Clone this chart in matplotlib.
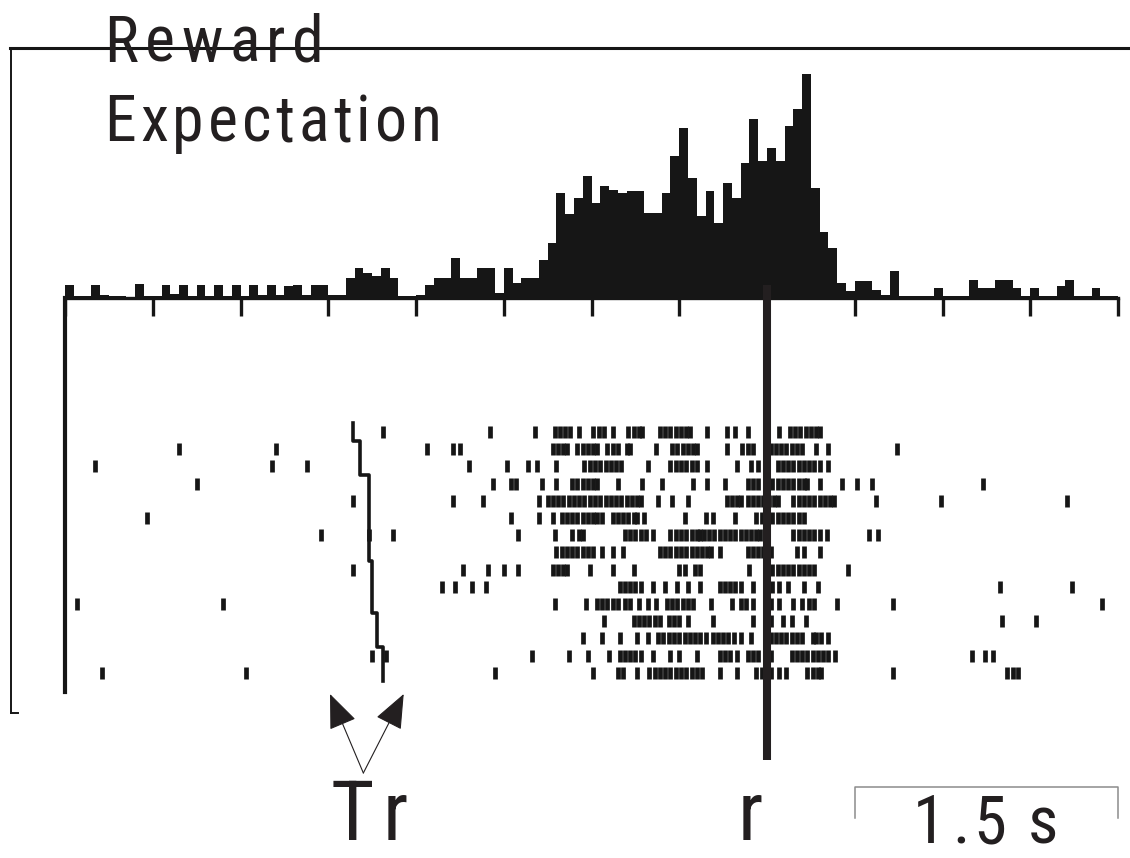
import numpy as np
import matplotlib
matplotlib.use("Agg")
import matplotlib.pyplot as plt
from matplotlib.lines import Line2D

W, H = 1130, 858
INK = "#161616"
TXT = "#231f20"
FONT = ["Roboto Condensed", "Liberation Sans", "DejaVu Sans"]

# time window (s, reward at 0) and PSTH binning
t_start, t_end = -4.0, 2.0
bin_width = 0.05
tick_step = 0.5

# PSTH, impulses/s, one value per 50 ms bin from -4 s to +2 s
psth_rate = [
    1.3, 0.2, 0.2, 1.3, 0.3, 0.2, 0.2, 0.0, 1.4, 0.2,
    0.2, 1.3, 0.4, 1.3, 0.2, 1.3, 0.2, 1.3, 0.2, 1.3,
    0.2, 1.3, 0.3, 1.3, 0.3, 1.2, 1.3, 0.3, 1.3, 1.3,
    0.3, 0.3, 2.0, 3.0, 2.5, 2.2, 3.0, 2.0, 0.2, 0.2,
    0.3, 1.3, 2.0, 2.0, 4.0, 2.0, 2.0, 3.0, 3.0, 0.5,
    3.0, 1.5, 2.0, 2.0, 3.8, 5.5, 10.5, 8.4, 10.0, 12.2,
    9.5, 11.2, 10.8, 10.5, 10.7, 10.7, 8.5, 8.5, 10.5, 14.2,
    17.0, 12.0, 8.2, 10.7, 7.5, 11.5, 10.0, 13.5, 17.9, 13.7,
    15.0, 13.7, 17.2, 18.9, 22.4, 11.0, 6.6, 5.0, 1.5, 0.7,
    1.7, 1.7, 0.8, 0.3, 2.7, 0.2, 0.2, 0.2, 0.2, 1.0,
    0.2, 0.2, 0.2, 1.8, 1.0, 1.0, 1.8, 1.8, 1.0, 0.2,
    1.0, 0.2, 0.2, 1.2, 1.8, 0.2, 0.2, 1.0, 0.2, 0.2,
]

# trigger (Tr) time on each trial, s
trigger_t = [-2.36, -2.32, -2.32, -2.27, -2.27, -2.27, -2.27, -2.27,
             -2.25, -2.25, -2.25, -2.22, -2.22, -2.19, -2.19]

# spike times per trial, s relative to reward
spikes = [
    [-2.19, -1.58, -1.32, -1.21, -1.18, -1.15, -1.12, -1.07, -0.99, -0.96, -0.93, -0.88,
     -0.79, -0.76, -0.73, -0.71, -0.61, -0.58, -0.55, -0.52, -0.49, -0.46, -0.44, -0.34,
     -0.23, -0.18, -0.11, 0.00, 0.07, 0.13, 0.16, 0.19, 0.22, 0.25, 0.28, 0.30],
    [-3.35, -2.80, -1.94, -1.79, -1.75, -1.22, -1.19, -1.16, -1.14, -1.08, -1.05, -1.02,
     -0.99, -0.97, -0.91, -0.88, -0.85, -0.80, -0.78, -0.63, -0.54, -0.51, -0.48, -0.45,
     -0.42, -0.40, -0.23, -0.14, -0.11, -0.08, 0.02, 0.05, 0.08, 0.11, 0.14, 0.17, 0.20,
     0.28, 0.35, 0.74],
    [-3.83, -2.82, -2.62, -1.70, -1.48, -1.36, -1.31, -1.20, -1.04, -1.01, -0.98, -0.95,
     -0.92, -0.89, -0.86, -0.83, -0.68, -0.55, -0.52, -0.49, -0.46, -0.43, -0.40, -0.34,
     -0.17, -0.09, -0.05, 0.06, 0.09, 0.12, 0.15, 0.18, 0.21, 0.24, 0.27, 0.30, 0.35],
    [-3.25, -1.56, -1.46, -1.43, -1.28, -1.20, -1.11, -1.08, -1.05, -1.02, -0.99, -0.97,
     -0.85, -0.71, -0.60, -0.42, -0.34, -0.24, -0.11, -0.08, -0.05, 0.03, 0.06, 0.09,
     0.12, 0.15, 0.18, 0.21, 0.23, 0.30, 0.43, 0.51, 0.60, 1.23],
    [-2.36, -1.79, -1.62, -1.30, -1.25, -1.22, -1.19, -1.16, -1.13, -1.10, -1.07, -1.04,
     -1.01, -0.98, -0.95, -0.92, -0.89, -0.86, -0.83, -0.80, -0.77, -0.74, -0.72, -0.62,
     -0.54, -0.45, -0.23, -0.20, -0.17, -0.15, -0.11, -0.08, -0.05, -0.02, 0.01, 0.04,
     0.06, 0.15, 0.18, 0.21, 0.24, 0.27, 0.30, 0.33, 0.36, 0.38, 0.62, 0.99, 1.71],
    [-3.53, -1.46, -1.30, -1.22, -1.17, -1.14, -1.11, -1.08, -1.05, -1.02, -0.99, -0.97,
     -0.94, -0.88, -0.85, -0.82, -0.79, -0.76, -0.74, -0.70, -0.47, -0.35, -0.31, -0.18,
     -0.06, -0.03, 0.00, 0.03, 0.06, 0.09, 0.12, 0.15, 0.18, 0.21],
    [-2.54, -2.27, -2.13, -1.42, -1.21, -1.11, -1.07, -1.05, -0.81, -0.78, -0.75, -0.72,
     -0.69, -0.65, -0.55, -0.52, -0.49, -0.46, -0.43, -0.40, -0.38, -0.36, -0.33, -0.30,
     -0.27, -0.24, -0.21, -0.18, -0.15, -0.12, -0.09, -0.06, -0.04, 0.15, 0.18, 0.21,
     0.24, 0.27, 0.30, 0.34, 0.58, 0.63],
    [-1.20, -1.17, -1.14, -1.11, -1.08, -1.05, -1.02, -0.99, -0.94, -0.88, -0.82, -0.61,
     -0.58, -0.55, -0.52, -0.49, -0.46, -0.43, -0.40, -0.37, -0.34, -0.32, -0.27, -0.11,
     -0.08, -0.05, -0.02, 0.02, 0.17, 0.21, 0.30],
    [-2.36, -1.73, -1.59, -1.50, -1.42, -1.22, -1.19, -1.16, -1.14, -1.01, -0.88, -0.76,
     -0.50, -0.47, -0.41, -0.38, -0.10, 0.00, 0.03, 0.06, 0.09, 0.12, 0.15, 0.18, 0.21,
     0.24, 0.27, 0.46],
    [-1.85, -1.78, -1.68, -1.60, -0.84, -0.81, -0.78, -0.75, -0.72, -0.65, -0.58, -0.51,
     -0.45, -0.38, -0.27, -0.24, -0.21, -0.18, -0.15, -0.08, 0.03, 0.07, 0.12, 0.21,
     0.29, 1.33, 1.74],
    [-3.93, -3.10, -1.21, -1.03, -0.97, -0.94, -0.91, -0.88, -0.85, -0.81, -0.78, -0.73,
     -0.68, -0.63, -0.57, -0.54, -0.51, -0.48, -0.45, -0.42, -0.32, -0.20, -0.15, -0.12,
     -0.08, 0.02, 0.07, 0.15, 0.20, 0.24, 0.27, 0.40, 0.72, 1.91],
    [-0.93, -0.76, -0.73, -0.70, -0.67, -0.64, -0.61, -0.56, -0.53, -0.50, -0.45, -0.31,
     -0.08, 0.02, 0.09, 0.14, 0.22, 1.34, 1.53],
    [-1.05, -0.94, -0.84, -0.74, -0.68, -0.62, -0.59, -0.56, -0.53, -0.50, -0.47, -0.44,
     -0.41, -0.38, -0.35, -0.31, -0.28, -0.25, -0.22, -0.19, -0.15, -0.09, 0.02, 0.05,
     0.08, 0.11, 0.14, 0.17, 0.20, 0.26, 0.28, 0.31, 0.35],
    [-2.25, -2.17, -1.34, -1.13, -1.02, -0.90, -0.84, -0.81, -0.78, -0.75, -0.72, -0.65,
     -0.55, -0.50, -0.40, -0.27, -0.24, -0.21, -0.17, -0.11, -0.08, -0.05, 0.02, 0.14,
     0.17, 0.20, 0.23, 0.26, 0.29, 0.32, 0.35, 0.39, 1.17, 1.24, 1.29],
    [-3.79, -2.97, -1.55, -0.99, -0.85, -0.82, -0.74, -0.67, -0.64, -0.61, -0.58, -0.55,
     -0.52, -0.49, -0.46, -0.43, -0.40, -0.37, -0.27, -0.17, -0.06, -0.03, 0.02, 0.07,
     0.11, 0.23, 0.26, 0.29, 0.31, 0.72, 1.37, 1.40, 1.43],
]

reward_t = 0.0
arrow_base_t = -2.30
arrow_tip_t = [-2.49, -2.07]
scale_bar_t = (0.5, 2.0)   # 1.5 s


def px_rect(x0, y0, x1, y1):
    """axes rect from image pixel box (y measured from top)"""
    return [x0 / W, 1 - y1 / H, (x1 - x0) / W, (y1 - y0) / H]


def spaced_text(ax, x, y, s, size, gaps):
    """letter-spaced text; x, y = left / baseline in image pixels, gaps in pt"""
    if not isinstance(gaps, (list, tuple)):
        gaps = [gaps] * len(s)
    prev = None
    for ch, g in zip(s, gaps):
        kw = dict(ha="left", va="baseline", fontsize=size, color=TXT, family=FONT)
        if prev is None:
            prev = ax.annotate(ch, xy=(x, H - y), xycoords="figure pixels", **kw)
        else:
            prev = ax.annotate(ch, xy=(1, H - y), xycoords=(prev, "figure pixels"),
                               xytext=(g, 0), textcoords="offset points", **kw)


fig = plt.figure(figsize=(W / 100, H / 100), dpi=100)
fig.patch.set_facecolor("white")

# histogram
ax_h = fig.add_axes(px_rect(65, 58, 1118, 298))
edges = t_start + bin_width * np.arange(len(psth_rate) + 1)
ax_h.stairs(psth_rate, edges, fill=True, color=INK, lw=0)
ax_h.set_xlim(t_start, t_end)
ax_h.set_ylim(0, 24)
for side in ["top", "right", "left"]:
    ax_h.spines[side].set_visible(False)
ax_h.spines["bottom"].set_linewidth(2.4)
ax_h.spines["bottom"].set_color(INK)
ax_h.set_xticks(np.arange(t_start, t_end + 0.01, tick_step))
ax_h.tick_params(axis="x", direction="out", length=13, width=2.4, color=INK,
                 labelbottom=False)
ax_h.set_yticks([])
ax_h.patch.set_visible(False)

# raster
ax_r = fig.add_axes(px_rect(65, 298, 1118, 692))
n_trials = len(spikes)
ax_r.eventplot(spikes, lineoffsets=np.arange(n_trials), linelengths=0.7,
               linewidths=3.4, colors=INK)
ys = np.repeat(np.arange(n_trials), 2) + np.tile([-0.5, 0.5], n_trials)
ax_r.plot(np.repeat(trigger_t, 2), ys, color=INK, lw=2.6)
ax_r.set_xlim(t_start, t_end)
ax_r.set_ylim(15.12, -7.79)
for side in ["top", "right", "bottom"]:
    ax_r.spines[side].set_visible(False)
ax_r.spines["left"].set_linewidth(3.0)
ax_r.spines["left"].set_color(INK)
ax_r.set_xticks([])
ax_r.set_yticks([])
ax_r.patch.set_visible(False)

# overlay: time on x, image pixels on y
ax_o = fig.add_axes([0, 0, 1, 1], zorder=5)
px_per_s = 1053 / (t_end - t_start)
ax_o.set_xlim(t_start - 65 / px_per_s, t_end + 12 / px_per_s)
ax_o.set_ylim(H, 0)
ax_o.axis("off")

ax_o.vlines(reward_t, 285, 760, color=TXT, lw=5.8)

s0, s1 = scale_bar_t
ax_o.plot([s0, s0, s1, s1], [818, 787, 787, 818], color="#8c8c8c", lw=1.1)

for tip in arrow_tip_t:
    ax_o.annotate("", xy=(tip, 694), xytext=(arrow_base_t, 773),
                  arrowprops=dict(arrowstyle="-|>,head_length=2.2,head_width=0.9",
                                  color=TXT, lw=0.8, shrinkA=0, shrinkB=0))

# frame
fig.add_artist(Line2D([10 / W, 1], [1 - 48 / H] * 2, transform=fig.transFigure,
                      color=INK, lw=2.2))
fig.add_artist(Line2D([11 / W] * 2, [1 - 48 / H, 1 - 713 / H],
                      transform=fig.transFigure, color=INK, lw=1.4))
fig.add_artist(Line2D([11 / W, 18 / W], [1 - 713 / H] * 2,
                      transform=fig.transFigure, color=INK, lw=1.4))

# labels
spaced_text(ax_o, 104, 62, "Reward", 46, 4.8)
spaced_text(ax_o, 104, 141, "Expectation", 46, 3.0)
spaced_text(ax_o, 331, 840, "Tr", 60, 6)
spaced_text(ax_o, 738, 840, "r", 60, 0)
spaced_text(ax_o, 913, 843, "1.5s", 48, [0, 5, 2, 16])

fig.savefig("out.png", dpi=100)
